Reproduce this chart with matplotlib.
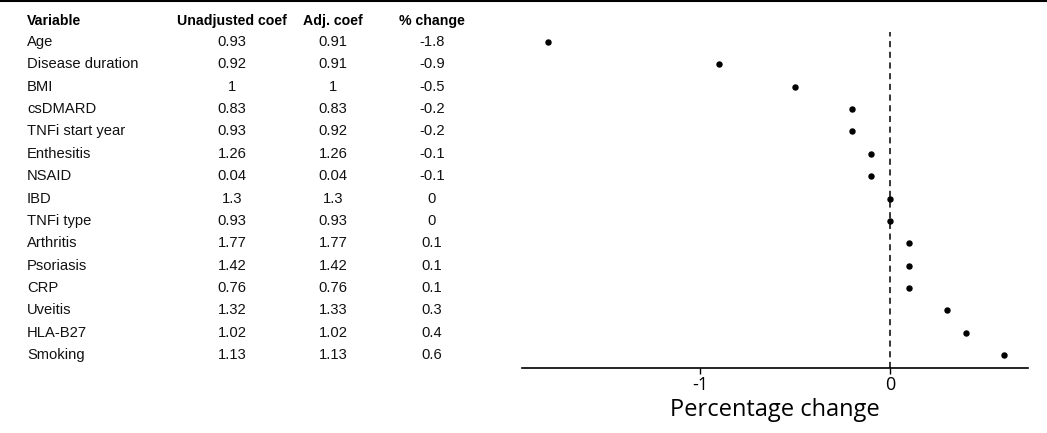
import numpy as np
import matplotlib.pyplot as plt
import matplotlib.transforms as mtrans
from matplotlib.lines import Line2D

# table data
variables = ['Age', 'Disease duration', 'BMI', 'csDMARD', 'TNFi start year',
             'Enthesitis', 'NSAID', 'IBD', 'TNFi type', 'Arthritis',
             'Psoriasis', 'CRP', 'Uveitis', 'HLA-B27', 'Smoking']
unadj = ['0.93', '0.92', '1', '0.83', '0.93', '1.26', '0.04', '1.3', '0.93',
         '1.77', '1.42', '0.76', '1.32', '1.02', '1.13']
adj = ['0.91', '0.91', '1', '0.83', '0.92', '1.26', '0.04', '1.3', '0.93',
       '1.77', '1.42', '0.76', '1.33', '1.02', '1.13']
pct_change = [-1.8, -0.9, -0.5, -0.2, -0.2, -0.1, -0.1, 0, 0, 0.1, 0.1, 0.1,
              0.3, 0.4, 0.6]
headers = ['Variable', 'Unadjusted coef', 'Adj. coef', '% change']

W, H = 1047, 433
fig = plt.figure(figsize=(W / 100, H / 100), dpi=100)

# plot area in pixels (from top-left)
left, right, top, bottom = 522, 1028, 32, 368
ax = fig.add_axes([left / W, 1 - bottom / H, (right - left) / W, (bottom - top) / H])

rows = np.arange(len(variables))
ax.plot(pct_change, rows, 'o', color='black', markersize=3.6)
ax.axvline(0, color='black', linestyle=(0, (4, 3)), linewidth=1.1)

ax.set_xlim(-1.937, 0.726)
ax.set_ylim(14.58, -0.447)
ax.set_xticks([-1, 0])
ax.set_xticklabels(['-1', '0'], fontfamily='Open Sans', fontsize=13)
ax.tick_params(axis='x', length=4, width=1, pad=2)
ax.set_yticks([])
for s in ['top', 'left', 'right']:
    ax.spines[s].set_visible(False)
ax.spines['bottom'].set_linewidth(1.2)
ax.set_xlabel('Percentage change', fontfamily='Open Sans', fontsize=17, labelpad=3)

# table text, rows aligned with data y
tr = mtrans.blended_transform_factory(fig.transFigure, ax.transData)
col_x = [27, 232, 333, 432]
col_ha = ['left', 'center', 'center', 'center']
for x, ha, h in zip(col_x, col_ha, headers):
    ax.text(x / W, -0.94, h, transform=tr, ha=ha, va='center',
            fontfamily='Liberation Sans', fontsize=10.2, fontweight='bold',
            clip_on=False)
for i in rows:
    vals = [variables[i], unadj[i], adj[i], '%g' % pct_change[i]]
    for x, ha, v in zip(col_x, col_ha, vals):
        ax.text(x / W, i, v, transform=tr, ha=ha, va='center', color='#111111',
                fontfamily='Liberation Sans', fontsize=10.6, clip_on=False)

# top border line
fig.add_artist(Line2D([0, 1], [1 - 0.5 / H, 1 - 0.5 / H], color='black',
                      linewidth=1.5, transform=fig.transFigure))

fig.savefig('out.png', dpi=100)
